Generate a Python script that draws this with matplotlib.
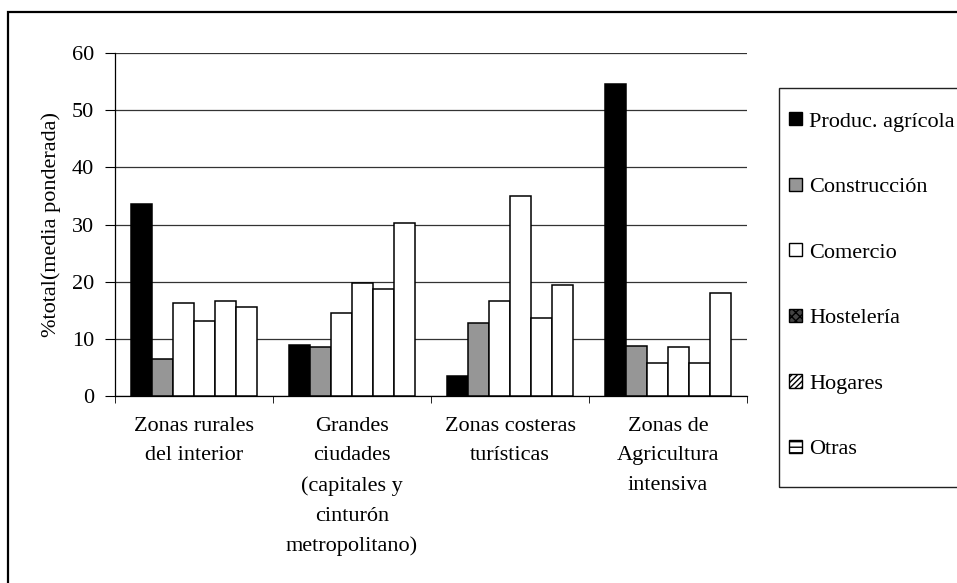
import matplotlib
matplotlib.use('Agg')
import matplotlib.pyplot as plt
from matplotlib.patches import Rectangle, Patch
import numpy as np

plt.rcParams['font.family'] = ['Liberation Serif', 'DejaVu Serif']
plt.rcParams['font.size'] = 16

zonas = ['Zonas rurales\ndel interior',
         'Grandes\nciudades\n(capitales y\ncinturón\nmetropolitano)',
         'Zonas costeras\nturísticas',
         'Zonas de\nAgricultura\nintensiva']

sectores = ['Produc. agrícola', 'Construcción', 'Comercio',
            'Hostelería', 'Hogares', 'Otras']

produc = [33.6, 9.0, 3.5, 54.6]
construccion = [6.5, 8.6, 12.8, 8.7]
comercio = [16.3, 14.5, 16.7, 5.8]
hosteleria = [13.2, 19.8, 34.9, 8.6]
hogares = [16.7, 18.8, 13.6, 5.8]
otras = [15.6, 30.3, 19.5, 18.1]

series = [produc, construccion, comercio, hosteleria, hogares, otras]
bar_colors = ['black', '#969696', 'white', 'white', 'white', 'white']

fig = plt.figure(figsize=(9.57, 5.83), dpi=100)
ax = fig.add_axes([115/957, 1-396/583, 632/957, 343/583])

x = np.arange(len(zonas))
w = 1/7.5
for i, vals in enumerate(series):
    ax.bar(x + (i-2.5)*w, vals, w, color=bar_colors[i],
           edgecolor='black', linewidth=1.1, zorder=3)

ax.set_xlim(-0.5, 3.5)
ax.set_ylim(0, 60)
ax.set_yticks(range(0, 61, 10))
ax.yaxis.grid(True, color='#333333', linewidth=0.9, zorder=0)

ax.set_xticks(x)
ax.set_xticklabels(zonas, linespacing=1.75)
ax.set_xticks(np.arange(-0.5, 3.6, 1), minor=True)
ax.tick_params(axis='x', which='major', length=0, pad=15)
ax.tick_params(axis='x', which='minor', length=5, direction='out')
ax.tick_params(axis='y', length=7, direction='out', pad=8)

for s in ['top', 'right']:
    ax.spines[s].set_visible(False)
ax.spines['left'].set_linewidth(0.9)
ax.spines['bottom'].set_linewidth(0.9)

ax.set_ylabel('%total(media ponderada)', labelpad=8)

# outer frame of the chart area
fig.patches.append(Rectangle((8/957, -0.1), 1.2, 0.1 + 1 - 12/583,
                             transform=fig.transFigure, fill=False,
                             edgecolor='black', linewidth=1.6))

# legend box, runs off the right edge
fig.patches.append(Rectangle((779/957, 1-487/583), 0.3, 399/583,
                             transform=fig.transFigure, fill=False,
                             edgecolor='#222222', linewidth=1.0))

handles = [Patch(facecolor='black', edgecolor='black'),
           Patch(facecolor='#969696', edgecolor='black'),
           Patch(facecolor='white', edgecolor='black'),
           Patch(facecolor='#444444', edgecolor='black', hatch='xxxx'),
           Patch(facecolor='white', edgecolor='black', hatch='//////'),
           Patch(facecolor='white', edgecolor='black', hatch='---')]
fig.legend(handles, sectores, loc='upper left',
           bbox_to_anchor=(789/957, 1-112/583), frameon=False,
           handlelength=0.6, handleheight=0.55, handletextpad=0.3,
           labelspacing=2.07, borderpad=0, borderaxespad=0)

fig.savefig('out.png', dpi=100)
